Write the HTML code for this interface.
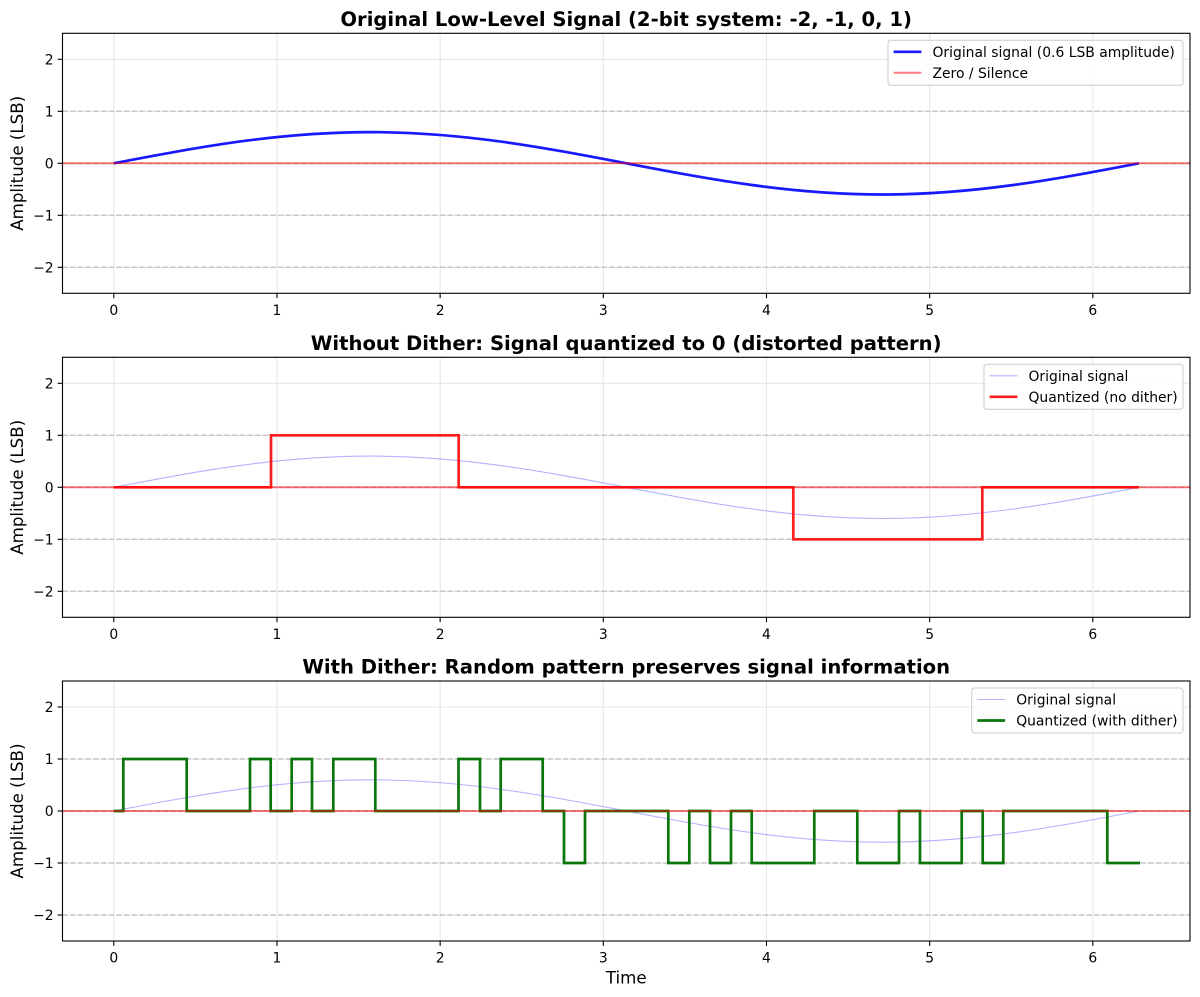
<!DOCTYPE html>
<html>
<head>
<meta charset="utf-8">
<style>
  html, body { margin:0; padding:0; background:#ffffff; }
  svg { display:block; }
  text { font-family: "DejaVu Sans", "Liberation Sans", sans-serif; fill:#000; }
  .tick { font-size:13.9px; }
  .ylab { font-size:16.67px; }
  .title { font-size:19.6px; font-weight:bold; }
  .leg { font-size:13.9px; }
</style>
</head>
<body>
<svg width="1200" height="997" viewBox="0 0 1200 997" xmlns="http://www.w3.org/2000/svg">
<defs>
  <clipPath id="ax"><rect x="62.5" y="0" width="1127.5" height="260"/></clipPath>
  <g id="gridbase">
    <g stroke="#e7e7e7" stroke-width="1.1">
      <line x1="113.8" y1="0" x2="113.8" y2="260"/>
      <line x1="276.97" y1="0" x2="276.97" y2="260"/>
      <line x1="440.14" y1="0" x2="440.14" y2="260"/>
      <line x1="603.31" y1="0" x2="603.31" y2="260"/>
      <line x1="766.48" y1="0" x2="766.48" y2="260"/>
      <line x1="929.65" y1="0" x2="929.65" y2="260"/>
      <line x1="1092.82" y1="0" x2="1092.82" y2="260"/>
      <line x1="62.5" y1="26" x2="1190" y2="26"/>
      <line x1="62.5" y1="78" x2="1190" y2="78"/>
      <line x1="62.5" y1="130" x2="1190" y2="130"/>
      <line x1="62.5" y1="182" x2="1190" y2="182"/>
      <line x1="62.5" y1="234" x2="1190" y2="234"/>
    </g>
    <g stroke="#c4c4c4" stroke-width="1.4" stroke-dasharray="5.3 2.4">
      <line x1="62.5" y1="78" x2="1190" y2="78"/>
      <line x1="62.5" y1="130" x2="1190" y2="130"/>
      <line x1="62.5" y1="182" x2="1190" y2="182"/>
      <line x1="62.5" y1="234" x2="1190" y2="234"/>
    </g>
  </g>
  <g id="frame">
    <rect x="62.5" y="0" width="1127.5" height="260" fill="none" stroke="#000" stroke-width="1.1"/>
    <g stroke="#000" stroke-width="1.1">
      <line x1="113.8" y1="260" x2="113.8" y2="264.9"/>
      <line x1="276.97" y1="260" x2="276.97" y2="264.9"/>
      <line x1="440.14" y1="260" x2="440.14" y2="264.9"/>
      <line x1="603.31" y1="260" x2="603.31" y2="264.9"/>
      <line x1="766.48" y1="260" x2="766.48" y2="264.9"/>
      <line x1="929.65" y1="260" x2="929.65" y2="264.9"/>
      <line x1="1092.82" y1="260" x2="1092.82" y2="264.9"/>
      <line x1="57.6" y1="26" x2="62.5" y2="26"/>
      <line x1="57.6" y1="78" x2="62.5" y2="78"/>
      <line x1="57.6" y1="130" x2="62.5" y2="130"/>
      <line x1="57.6" y1="182" x2="62.5" y2="182"/>
      <line x1="57.6" y1="234" x2="62.5" y2="234"/>
    </g>
    <g class="tick" text-anchor="middle">
      <text x="113.8" y="281.5">0</text>
      <text x="276.97" y="281.5">1</text>
      <text x="440.14" y="281.5">2</text>
      <text x="603.31" y="281.5">3</text>
      <text x="766.48" y="281.5">4</text>
      <text x="929.65" y="281.5">5</text>
      <text x="1092.82" y="281.5">6</text>
    </g>
    <g class="tick" text-anchor="end">
      <text x="53.6" y="31.2">2</text>
      <text x="53.6" y="83.2">1</text>
      <text x="53.6" y="135.2">0</text>
      <text x="53.6" y="187.2">−1</text>
      <text x="53.6" y="239.2">−2</text>
    </g>
    <text class="ylab" text-anchor="middle" transform="translate(23,130) rotate(-90)">Amplitude (LSB)</text>
  </g>
</defs>

<!-- Plot 1 -->
<g transform="translate(0,33.3)">
  <use href="#gridbase"/>
  <g clip-path="url(#ax)">
    <path d="M113.8,130 C197.39,114.02 277.35,98.8 370.11,98.8 C462.87,98.8 542.82,114.02 626.41,130 C710.0,145.98 789.96,161.2 882.72,161.2 C975.48,161.2 1055.43,145.98 1139.02,130" fill="none" stroke="#0000ff" stroke-opacity="0.9" stroke-width="2.7"/>
    <line x1="62.5" y1="130" x2="1190" y2="130" stroke="#ff0000" stroke-opacity="0.5" stroke-width="2"/>
  </g>
  <use href="#frame"/>
  <text class="title" x="626.2" y="-7.3" text-anchor="middle">Original Low-Level Signal (2-bit system: -2, -1, 0, 1)</text>
  <rect x="888" y="7" width="295" height="45" rx="2.8" fill="#ffffff" fill-opacity="0.8" stroke="#cccccc" stroke-width="1"/>
  <line x1="893.6" y1="18.5" x2="921.4" y2="18.5" stroke="#0000ff" stroke-opacity="0.9" stroke-width="2.7"/>
  <line x1="893.6" y1="39.5" x2="921.4" y2="39.5" stroke="#ff0000" stroke-opacity="0.5" stroke-width="2"/>
  <text class="leg" x="932.5" y="23.5">Original signal (0.6 LSB amplitude)</text>
  <text class="leg" x="932.5" y="44.5">Zero / Silence</text>
</g>

<!-- Plot 2 -->
<g transform="translate(0,357.3)">
  <use href="#gridbase"/>
  <g clip-path="url(#ax)">
    <path d="M113.8,130 C197.39,114.02 277.35,98.8 370.11,98.8 C462.87,98.8 542.82,114.02 626.41,130 C710.0,145.98 789.96,161.2 882.72,161.2 C975.48,161.2 1055.43,145.98 1139.02,130" fill="none" stroke="#0000ff" stroke-opacity="0.3" stroke-width="1.1"/>
    <path d="M113.8,130 H271 V78 H458.7 V130 H793.3 V182 H982.3 V130 H1139" fill="none" stroke="#ff0000" stroke-opacity="0.88" stroke-width="2.7" stroke-linejoin="miter"/>
    <line x1="62.5" y1="130" x2="1190" y2="130" stroke="#ff0000" stroke-opacity="0.5" stroke-width="2"/>
  </g>
  <use href="#frame"/>
  <text class="title" x="626.2" y="-7.3" text-anchor="middle">Without Dither: Signal quantized to 0 (distorted pattern)</text>
  <rect x="984" y="7" width="199" height="45" rx="2.8" fill="#ffffff" fill-opacity="0.8" stroke="#cccccc" stroke-width="1"/>
  <line x1="989.6" y1="18.5" x2="1017.4" y2="18.5" stroke="#0000ff" stroke-opacity="0.3" stroke-width="1.1"/>
  <line x1="989.6" y1="39.5" x2="1017.4" y2="39.5" stroke="#ff0000" stroke-opacity="0.88" stroke-width="2.7"/>
  <text class="leg" x="1028.5" y="23.5">Original signal</text>
  <text class="leg" x="1028.5" y="44.5">Quantized (no dither)</text>
</g>

<!-- Plot 3 -->
<g transform="translate(0,681)">
  <use href="#gridbase"/>
  <g clip-path="url(#ax)">
    <path d="M113.8,130 C197.39,114.02 277.35,98.8 370.11,98.8 C462.87,98.8 542.82,114.02 626.41,130 C710.0,145.98 789.96,161.2 882.72,161.2 C975.48,161.2 1055.43,145.98 1139.02,130" fill="none" stroke="#0000ff" stroke-opacity="0.3" stroke-width="1.1"/>
    <path d="M113.8,130 H123.3 V78 H186.7 V130 H250 V78 H270.7 V130 H291.7 V78 H312 V130 H333.3 V78 H375.3 V130 H458.5 V78 H480 V130 H500.7 V78 H542.7 V130 H564 V182 H585 V130 H668.3 V182 H689.3 V130 H710 V182 H731 V130 H751.7 V182 H814.3 V130 H857.3 V182 H899 V130 H920 V182 H961.7 V130 H982.7 V182 H1003.3 V130 H1107.3 V182 H1140" fill="none" stroke="#0a750a" stroke-width="2.7" stroke-linejoin="miter"/>
    <line x1="62.5" y1="130" x2="1190" y2="130" stroke="#ff0000" stroke-opacity="0.5" stroke-width="2"/>
  </g>
  <use href="#frame"/>
  <text class="title" x="626.2" y="-7.3" text-anchor="middle">With Dither: Random pattern preserves signal information</text>
  <text class="ylab" x="626.2" y="302.7" text-anchor="middle">Time</text>
  <rect x="971.7" y="7" width="211.3" height="45" rx="2.8" fill="#ffffff" fill-opacity="0.8" stroke="#cccccc" stroke-width="1"/>
  <line x1="977.3" y1="18.5" x2="1005.1" y2="18.5" stroke="#0000ff" stroke-opacity="0.3" stroke-width="1.1"/>
  <line x1="977.3" y1="39.5" x2="1005.1" y2="39.5" stroke="#0a750a" stroke-width="2.7"/>
  <text class="leg" x="1016.2" y="23.5">Original signal</text>
  <text class="leg" x="1016.2" y="44.5">Quantized (with dither)</text>
</g>
</svg>
</body>
</html>
